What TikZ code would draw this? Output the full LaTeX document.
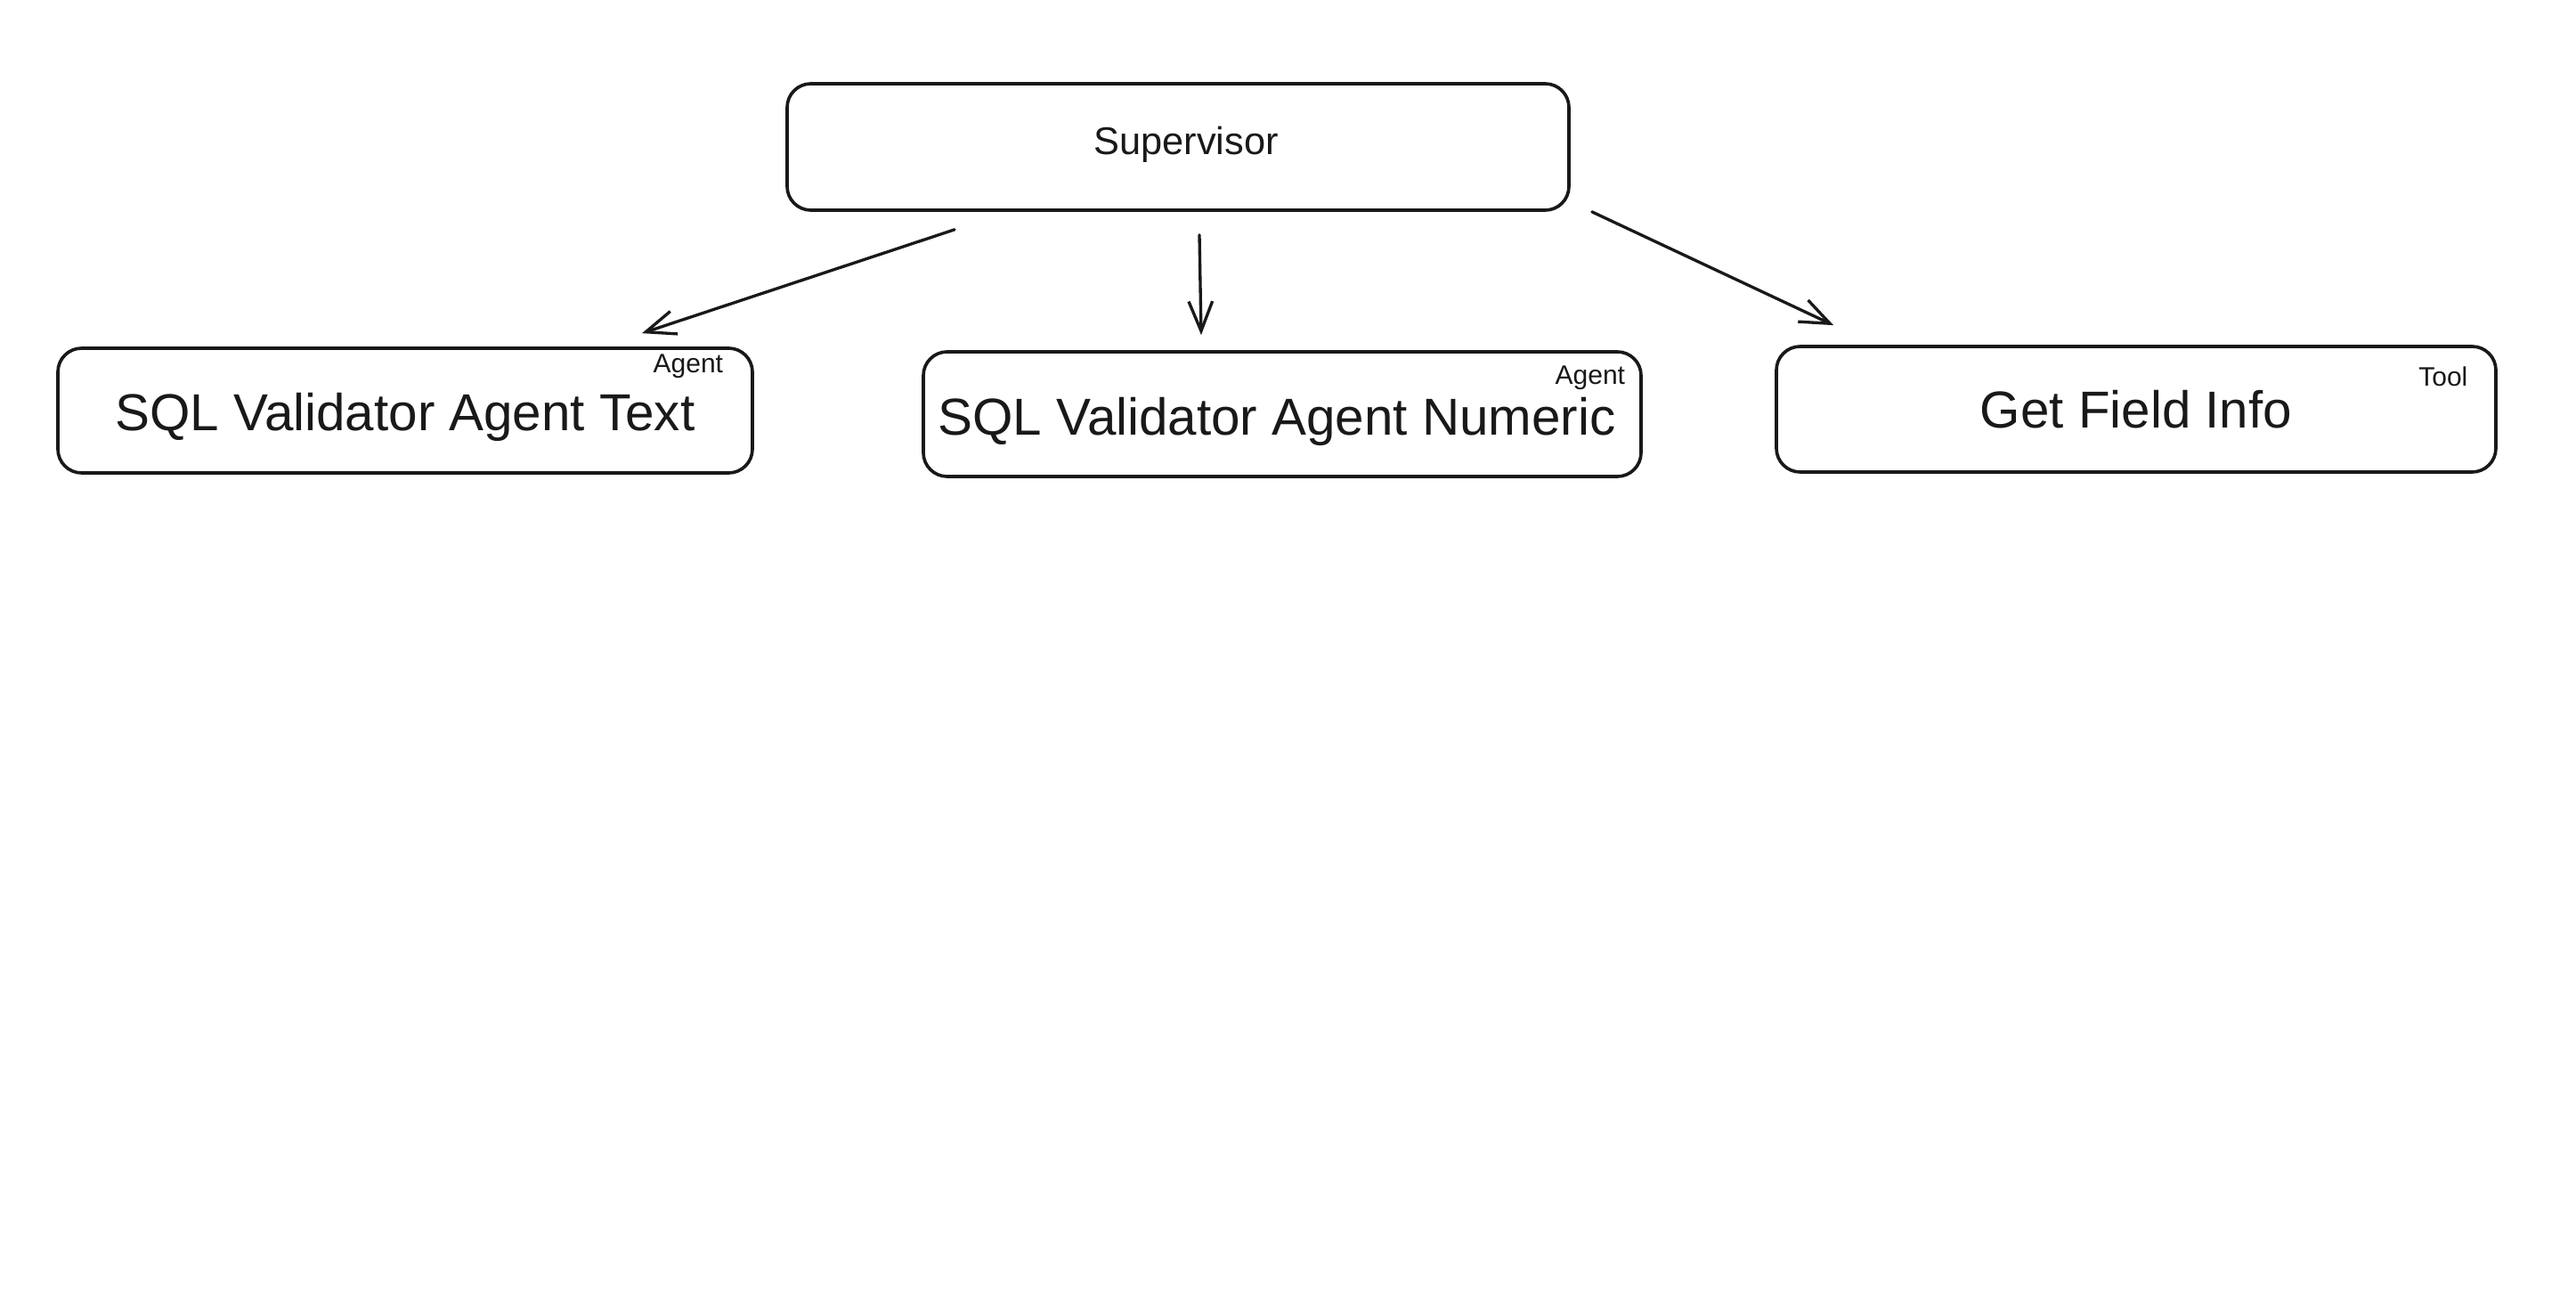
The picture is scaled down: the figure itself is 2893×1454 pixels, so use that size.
\documentclass[tikz,border=0pt]{standalone}
\usepackage{fontspec}
\setmainfont{Liberation Sans}
\usetikzlibrary{arrows.meta,calc}
\tikzset{
  box/.style={draw=black!90, line width=1.1pt, rounded corners=8pt, fill=white, inner sep=0pt},
  arr/.style={draw=black!90, line width=1pt, line cap=round, -{Straight Barb[length=10pt,width=8pt,line width=1pt]}},
  tag/.style={font=\fontsize{9}{10}\selectfont, text=black!90, inner sep=0pt},
  big/.style={font=\fontsize{17.5}{20}\selectfont, text=black!90, inner sep=0pt}
}
\begin{document}
\begin{tikzpicture}[x=0.3pt,y=-0.3pt]
\useasboundingbox[fill=white] (0,0) rectangle (2893,1454);
\node[box, minimum width=878*0.3pt, minimum height=142*0.3pt] (sup) at (1323,165) {};
\node[box, minimum width=780*0.3pt, minimum height=140*0.3pt] (t1) at (455,461) {};
\node[box, minimum width=806*0.3pt, minimum height=140*0.3pt] (t2) at (1440,465) {};
\node[box, minimum width=808*0.3pt, minimum height=141*0.3pt] (t3) at (2399,459.5) {};
\node[font=\fontsize{13}{15}\selectfont, text=black!90, inner sep=0pt] (supx) at ($(sup)+(9,-3)$) {Supervisor};
\node[big] (t1x) at ($(t1)+(0,7)$) {SQL Validator Agent Text};
\node[big] (t2x) at ($(t2)+(-6,8)$) {SQL Validator Agent Numeric};
\node[big] (t3x) at ($(t3)+(0,0)$) {Get Field Info};
\node[tag] (l1) at ($(t1.north east)+(-74,22)$) {Agent};
\node[tag] (l2) at ($(t2.north east)+(-59,31)$) {Agent};
\node[tag] (l3) at ($(t3.north east)+(-61,36)$) {Tool};
\draw[arr] ($(sup.south)+(-251,20)$) -- ($(t1.north)+(266,-15)$);
\draw[arr] ($(sup.south)+(24,26)$) -- ($(t2.north)+(-91,-17)$);
\draw[arr] ($(sup.south east)+(24,0)$) -- ($(t3.north west)+(66,-22)$);
\end{tikzpicture}
\end{document}
